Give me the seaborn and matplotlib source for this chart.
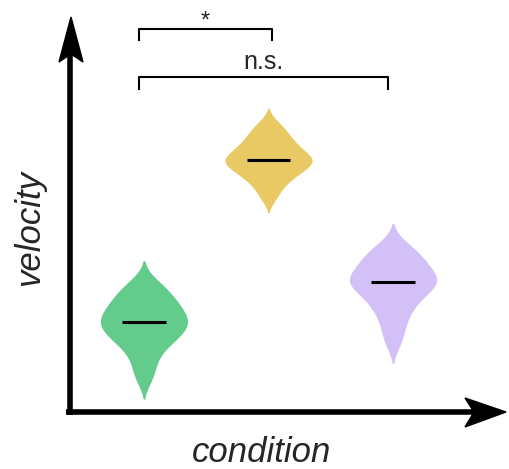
import numpy as np
import pandas as pd
import matplotlib
matplotlib.use("Agg")
import matplotlib.pyplot as plt
from matplotlib.patches import Polygon
import seaborn as sns

# ---- data ----
conditions = ["A", "B", "C"]
green_vals = [0.8, 1.15, 1.42, 1.65, 1.75, 1.85, 1.95, 2.05, 2.15, 2.2,
              2.25, 2.35, 2.45, 2.55, 2.65, 2.75, 2.88, 3.03, 3.2]
yellow_vals = [5.33, 5.58, 5.75, 5.85, 5.95, 6.03, 6.1, 6.17, 6.22, 6.25,
               6.3, 6.37, 6.45, 6.53, 6.62, 6.72, 6.84, 6.98, 7.15]
purple_vals = [1.7, 2.05, 2.33, 2.55, 2.7, 2.85, 2.97, 3.07, 3.15, 3.2,
               3.25, 3.33, 3.42, 3.52, 3.62, 3.73, 3.85, 3.98, 4.12]
colors = ["#63cb8b", "#e9c964", "#d3c0f7"]
brackets = [(0, 1, "*"), (0, 2, "n.s.")]

df = pd.DataFrame({
    "condition": [conditions[0]] * len(green_vals) + [conditions[1]] * len(yellow_vals)
                 + [conditions[2]] * len(purple_vals),
    "velocity": green_vals + yellow_vals + purple_vals,
})

sns.set_style("white")
plt.rcParams["font.family"] = ["Liberation Sans", "DejaVu Sans"]

W, H = 510, 469
fig = plt.figure(figsize=(W / 100, H / 100), dpi=100)
# main axes: pixel box left=70, right=500, top=18, bottom=410
ax = fig.add_axes([70 / W, (H - 410) / H, 430 / W, 392 / H])
sns.violinplot(data=df, x="condition", y="velocity", hue="condition",
               palette=colors, inner=None, cut=2, density_norm="width",
               width=0.7, linewidth=0, bw_adjust=0.75, legend=False, ax=ax,
               saturation=1)
for i, vals in enumerate([green_vals, yellow_vals, purple_vals]):
    ax.hlines(np.median(vals), i - 0.175, i + 0.175, color="black", lw=2.2, zorder=5)

ax.set_xlim(-0.594, 2.859)
ax.set_ylim(0, 9.8)
ax.axis("off")

# significance brackets
blevels = [(9.525, 9.225), (8.325, 8.0)]
for (a, b, lab), (ytop, ybot) in zip(brackets, blevels):
    xa, xb = a - 0.04, b + (0.03 if b == 1 else -0.04)
    ax.plot([xa, xa, xb, xb], [ybot, ytop, ytop, ybot], color="black", lw=1.5,
            clip_on=False, solid_capstyle="butt")
    ax.text((xa + xb) / 2, ytop + (0.03 if lab == "*" else 0.2), lab, ha="center",
            va="baseline", fontsize=18 if lab != "*" else 17, clip_on=False)

# overlay axes in pixel coordinates for axis arrows and labels
ov = fig.add_axes([0, 0, 1, 1], zorder=-1)
ov.set_xlim(0, W)
ov.set_ylim(H, 0)
ov.axis("off")
ov.patch.set_alpha(0)
ov.plot([70, 70], [415, 50], color="black", lw=4, solid_capstyle="butt")
ov.plot([66, 475], [412, 412], color="black", lw=4, solid_capstyle="butt")
ov.add_patch(Polygon([[71, 17], [59, 62], [71, 54], [83, 62]], closed=True,
                     color="black"))
ov.add_patch(Polygon([[506, 412], [465, 398], [474, 412], [465, 427]], closed=True,
                     color="black"))
ov.text(262, 452, "condition", ha="center", va="center", fontsize=25, style="italic")
ov.text(30, 228, "velocity", ha="center", va="center", fontsize=25, style="italic",
        rotation=90)

fig.savefig("out.png", dpi=100)
